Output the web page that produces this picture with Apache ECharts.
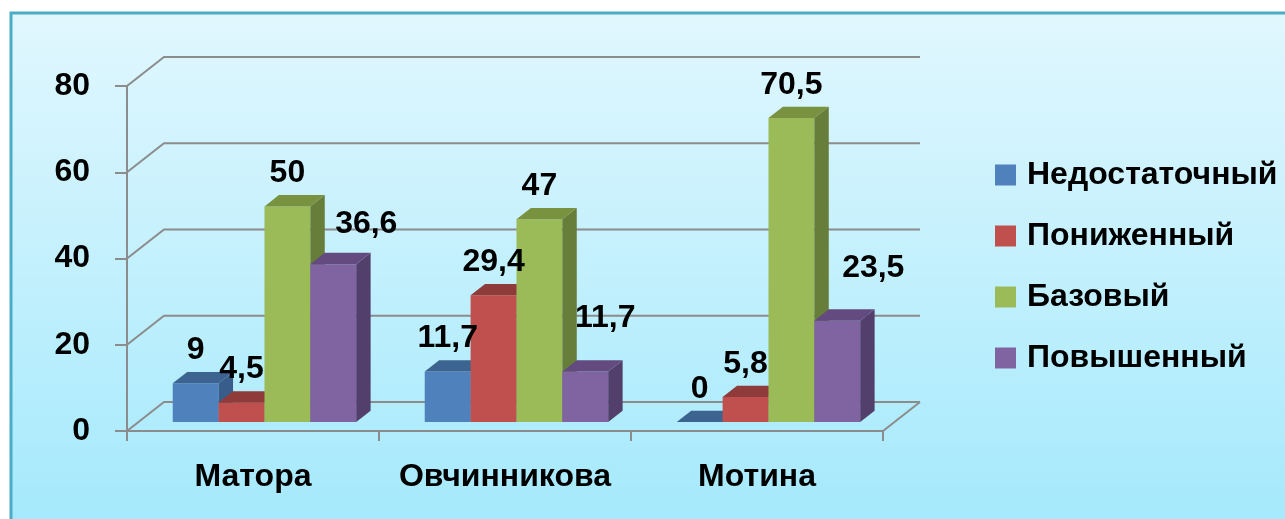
<!DOCTYPE html>
<html>
<head>
<meta charset="utf-8">
<script src="https://cdn.jsdelivr.net/npm/echarts@6/dist/echarts.min.js"></script>
<style>
  html, body { margin: 0; padding: 0; background: #fff; }
  #main { width: 1285px; height: 519px; }
</style>
</head>
<body>
<div id="main"></div>
<script>
// данные
const categories = ['Матора', 'Овчинникова', 'Мотина'];
const levels = ['Недостаточный', 'Пониженный', 'Базовый', 'Повышенный'];
const nedostatochny = [9, 11.7, 0];
const ponizhenny = [4.5, 29.4, 5.8];
const bazovy = [50, 47, 70.5];
const povyshenny = [36.6, 11.7, 23.5];
const yTicks = [0, 20, 40, 60, 80];

// оформление
const values = [nedostatochny, ponizhenny, bazovy, povyshenny];
const colors = [
  { front: '#4f81bd', top: '#3d6390', side: '#385d8a' },
  { front: '#c0504d', top: '#8f3b39', side: '#8c3a37' },
  { front: '#9bbb59', top: '#78923f', side: '#677d3a' },
  { front: '#8064a2', top: '#634b7f', side: '#533f6b' }
];
// сдвиг подписей (только у фиолетовых)
const labelShift = [
  [[0, 0], [0, 0], [0, 0]],
  [[0, 0], [0, 0], [0, 0]],
  [[0, 0], [0, 0], [0, 0]],
  [[33, -7], [20, -20], [36, -19]]
];
const DX = 37, DY = -29;      // глубина "пола"
const FRONT = 0.31, DEPTH = 0.39;
const FAMILY = '"Liberation Sans", Arial, sans-serif';
const FONT = 'bold 32px ' + FAMILY;
const GRID_COLOR = '#8c8c8c';

const fmt = v => String(v).replace('.', ',');

function wallRender(params, api) {
  const cs = params.coordSys;
  const y = api.coord([0, api.value(0)])[1];
  const x0 = cs.x, x1 = cs.x + cs.width;
  const children = [
    { type: 'polyline', shape: { points: [[x0, y], [x0 + DX, y + DY], [x1 + DX, y + DY]] },
      style: { stroke: GRID_COLOR, lineWidth: 2, fill: null } }
  ];
  if (api.value(0) === 0) {
    children.push({ type: 'line', shape: { x1: x1, y1: y, x2: x1 + DX, y2: y + DY },
      style: { stroke: GRID_COLOR, lineWidth: 2 } });
  }
  return { type: 'group', children: children };
}

function barRender(si) {
  return function (params, api) {
    const ci = api.value(0), v = api.value(1);
    const top = api.coord([ci, v]);
    const base = api.coord([ci, 0]);
    const band = api.size([1, 0])[0];
    const w = band * 0.182;
    const fx = top[0] - 2 * w + si * w + DX * FRONT;
    const fy0 = base[1] + DY * FRONT;
    const fy1 = top[1] + DY * FRONT;
    const dx = DX * DEPTH, dy = DY * DEPTH;
    const c = colors[si];
    const sh = labelShift[si][ci];
    const children = [];
    if (fy0 - fy1 > 0.5) {
      children.push({ type: 'polygon', shape: { points: [[fx, fy0], [fx + w, fy0], [fx + w, fy1], [fx, fy1]] },
        style: { fill: c.front } });
      children.push({ type: 'polygon', shape: { points: [[fx + w, fy0], [fx + w + dx, fy0 + dy], [fx + w + dx, fy1 + dy], [fx + w, fy1]] },
        style: { fill: c.side } });
    }
    children.push({ type: 'polygon', shape: { points: [[fx, fy1], [fx + w, fy1], [fx + w + dx, fy1 + dy], [fx + dx, fy1 + dy]] },
      style: { fill: c.top } });
    children.push({ type: 'text', z2: 10, style: {
      text: fmt(v), x: fx + w / 2 + sh[0], y: fy1 - 33 + sh[1],
      align: 'center', verticalAlign: 'middle', font: FONT, fill: '#000'
    } });
    return { type: 'group', children: children };
  };
}

const chart = echarts.init(document.getElementById('main'));

const series = [{
  type: 'custom',
  name: 'wall',
  z: 1,
  silent: true,
  renderItem: wallRender,
  data: yTicks.map(t => [t])
}];
levels.forEach((name, si) => {
  series.push({
    type: 'custom',
    name: name,
    z: 3,
    itemStyle: { color: colors[si].front },
    renderItem: barRender(si),
    data: values[si].map((v, ci) => [ci, v])
  });
});

chart.setOption({
  animation: false,
  backgroundColor: '#fff',
  graphic: [{
    type: 'rect',
    z: -10,
    shape: { x: 11, y: 13, width: 1290, height: 520 },
    style: {
      stroke: '#4bacc6', lineWidth: 3,
      fill: new echarts.graphic.LinearGradient(0, 0, 0, 1, [
        { offset: 0, color: '#e1f7fe' },
        { offset: 1, color: '#a3e9fc' }
      ])
    }
  }],
  grid: { left: 127, top: 86, width: 756, height: 345 },
  legend: {
    orient: 'vertical',
    left: 995,
    top: 155,
    padding: 0,
    itemWidth: 21,
    itemHeight: 21,
    itemGap: 21,
    icon: 'rect',
    data: levels,
    textStyle: {
      fontFamily: FAMILY,
      fontWeight: 'bold', fontSize: 32, color: '#000',
      lineHeight: 40, padding: [0, 0, 0, 6]
    }
  },
  xAxis: {
    type: 'category',
    data: categories,
    axisLine: { show: true, lineStyle: { color: GRID_COLOR, width: 2 } },
    axisTick: { show: true, length: 10, lineStyle: { color: GRID_COLOR, width: 2 } },
    axisLabel: {
      interval: 0,
      hideOverlap: false,
      margin: 30,
      fontFamily: FAMILY,
      fontWeight: 'bold', fontSize: 32, color: '#000'
    },
    splitLine: { show: false }
  },
  yAxis: {
    type: 'value',
    min: 0,
    max: 80,
    interval: 20,
    axisLine: { show: true, lineStyle: { color: GRID_COLOR, width: 2 } },
    axisTick: { show: true, length: 12, lineStyle: { color: GRID_COLOR, width: 2 } },
    axisLabel: {
      margin: 37,
      fontFamily: FAMILY,
      fontWeight: 'bold', fontSize: 32, color: '#000'
    },
    splitLine: { show: false }
  },
  series: series
});
</script>
</body>
</html>
